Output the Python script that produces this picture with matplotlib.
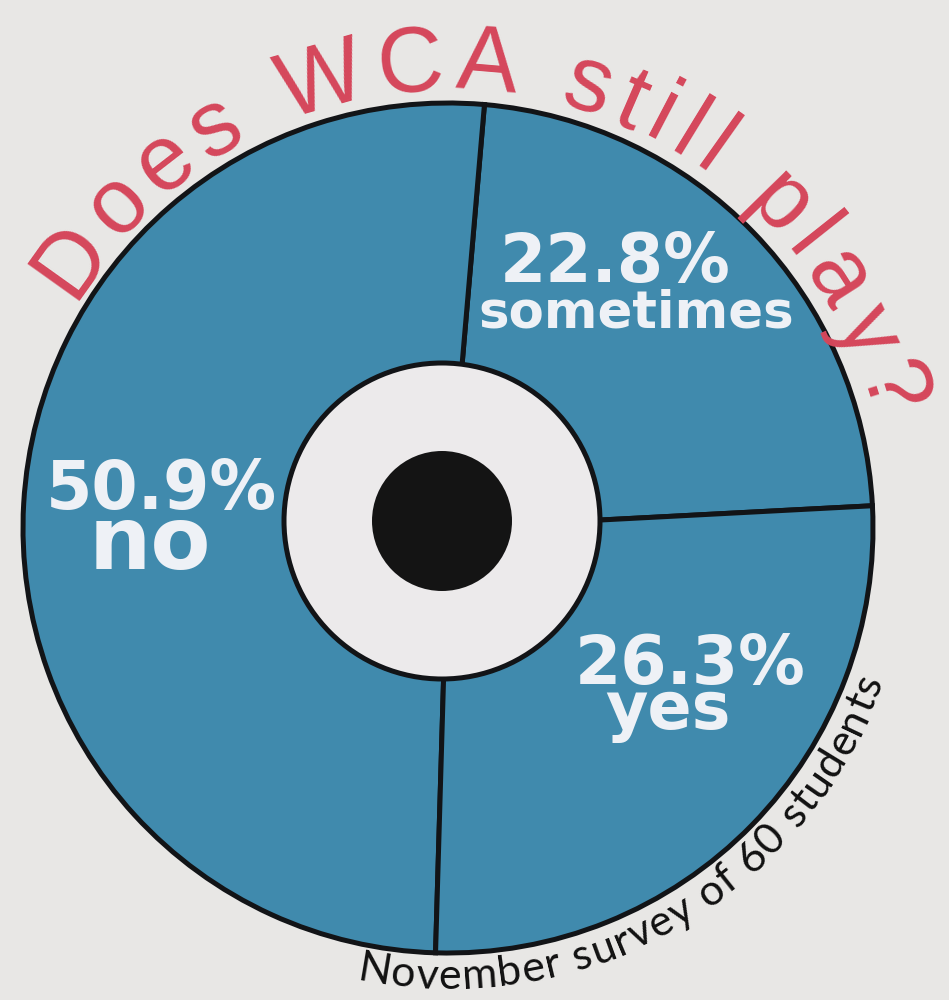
import numpy as np
import matplotlib.pyplot as plt
from matplotlib.patches import Circle
from matplotlib.font_manager import FontProperties, findfont, get_font

# survey answers, in the order they go round the disc (counter-clockwise from the right)
answers = ['sometimes', 'no', 'yes']
shares = [22.8, 50.9, 26.3]
title = 'Does WCA still play?'
note = 'November survey of 60 students'

W, H, DPI = 949, 1000, 100
bg = '#e8e7e5'
blue = '#408aad'
ink = '#121417'
paper = '#eceaeb'
white = '#eef1f6'
red = '#d5475b'

fig = plt.figure(figsize=(W / DPI, H / DPI), dpi=DPI, facecolor=bg)
ax = fig.add_axes([0, 0, 1, 1])
ax.set_facecolor(bg)

cx, cy = 448, H - 528
R = 425

ax.pie(shares, radius=R, center=(cx, cy), startangle=3, counterclock=True,
       colors=[blue] * len(shares),
       wedgeprops=dict(edgecolor=ink, linewidth=3.6))

# the record label in the middle
hx, hy = 442, H - 521
ax.add_patch(Circle((hx, hy), 158, facecolor=paper, edgecolor=ink, linewidth=3.6, zorder=3))
ax.add_patch(Circle((hx, hy), 70, facecolor='#141414', edgecolor='none', zorder=4))

ax.set_xlim(0, W)
ax.set_ylim(0, H)
ax.set_aspect('equal')
ax.axis('off')

# percentage labels inside the slices
big = FontProperties(family='DejaVu Sans', weight='bold', size=48)
label_pos = {
    'sometimes': ((615, 282), (636, 328), 37),
    'no': ((161, 509), (150, 569), 63),
    'yes': ((690, 684), (668, 729), 47),
}
for name, val in zip(answers, shares):
    (px, py), (nx, ny), nsize = label_pos[name]
    ax.text(px, H - py, f'{val}%', color=white, ha='center', va='baseline',
            fontproperties=big, zorder=5)
    ax.text(nx, H - ny, name, color=white, ha='center', va='baseline',
            family='DejaVu Sans', weight='bold', size=nsize, zorder=5)


def advance_px(ch, prop):
    font = get_font(findfont(prop))
    font.set_size(prop.get_size_in_points(), DPI)
    return font.load_char(ord(ch)).linearHoriAdvance / 65536


def text_on_arc(s, radius, first, last, prop, outward=True, **kw):
    adv = np.array([advance_px(c, prop) for c in s])
    gaps = (adv[:-1] + adv[1:]) / 2
    span = np.deg2rad(abs(first - last)) * radius
    extra = (span - gaps.sum()) / len(gaps)
    steps = np.concatenate([[0], np.cumsum(gaps + extra)])
    sign = -1 if outward else 1
    for ch, d in zip(s, steps):
        a = np.deg2rad(first) + sign * d / radius
        x = cx + radius * np.cos(a)
        y = cy + radius * np.sin(a)
        rot = np.degrees(a) - 90 if outward else np.degrees(a) + 90
        ax.text(x, y, ch, rotation=rot, rotation_mode='anchor', ha='center',
                va='baseline', fontproperties=prop, zorder=6, **kw)


text_on_arc(title, 438, 144.5, 17.5,
            FontProperties(family='Liberation Sans', size=66), outward=True, color=red)
text_on_arc(note, 461, -99.5, -20.5,
            FontProperties(family='Lato', size=31), outward=False, color='#111111')

plt.savefig('out.png', dpi=DPI, facecolor=bg)
